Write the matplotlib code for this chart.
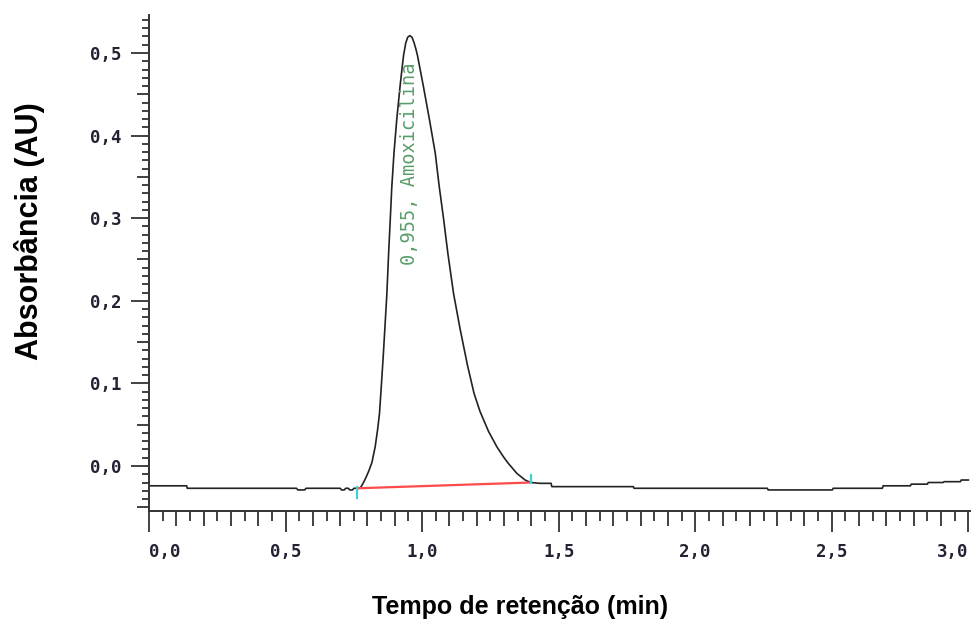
#!/usr/bin/env python3
"""Chromatogram - Amoxicilina peak"""
import numpy as np
import matplotlib
matplotlib.use('Agg')
import matplotlib.pyplot as plt

# retention time (min) and absorbance (AU)
tempo = [0.0, 0.138, 0.140, 0.540, 0.545, 0.570, 0.575, 0.700, 0.705, 0.715,
         0.720, 0.730, 0.735, 0.745, 0.750, 0.765, 0.775, 0.782, 0.790, 0.797,
         0.806, 0.816, 0.828, 0.837, 0.844, 0.852, 0.858, 0.864, 0.871, 0.877,
         0.883, 0.889, 0.897, 0.907, 0.919, 0.926, 0.932, 0.940, 0.947, 0.955,
         0.963, 0.970, 0.977, 0.983, 0.994, 1.005, 1.027, 1.048, 1.062, 1.079,
         1.094, 1.115, 1.139, 1.166, 1.190, 1.212, 1.243, 1.274, 1.298, 1.316,
         1.347, 1.377, 1.398, 1.430, 1.472, 1.475, 1.773, 1.776, 2.264, 2.267,
         2.502, 2.505, 2.685, 2.688, 2.788, 2.791, 2.850, 2.853, 2.908, 2.911,
         2.971, 2.974, 3.000]
absorb = [-0.024, -0.024, -0.027, -0.027, -0.029, -0.029, -0.027, -0.027, -0.029, -0.029,
          -0.027, -0.027, -0.029, -0.029, -0.027, -0.027, -0.026, -0.022, -0.017, -0.012,
          -0.005, 0.004, 0.023, 0.044, 0.064, 0.104, 0.135, 0.169, 0.209, 0.255,
          0.296, 0.338, 0.379, 0.419, 0.459, 0.480, 0.497, 0.512, 0.519, 0.521,
          0.519, 0.513, 0.505, 0.497, 0.478, 0.459, 0.419, 0.379, 0.340, 0.298,
          0.258, 0.209, 0.166, 0.122, 0.088, 0.066, 0.042, 0.023, 0.011, 0.003,
          -0.009, -0.017, -0.020, -0.021, -0.021, -0.025, -0.025, -0.027, -0.027, -0.029,
          -0.029, -0.027, -0.027, -0.024, -0.024, -0.022, -0.022, -0.020, -0.020, -0.019,
          -0.019, -0.017, -0.017]

# integration baseline and peak start/end marks
base_t = [0.763, 1.398]
base_y = [-0.027, -0.020]
mark_start = (0.763, -0.025, -0.039)
mark_end = (1.398, -0.011, -0.021)

peak_label = "0,955, Amoxicilina"
peak_label_pos = (0.955, 0.243)

xticks = [0.0, 0.5, 1.0, 1.5, 2.0, 2.5, 3.0]
yticks = [0.0, 0.1, 0.2, 0.3, 0.4, 0.5]

fig = plt.figure(figsize=(9.72, 6.24), dpi=100)
ax = fig.add_axes([149 / 972, 113 / 624, 821 / 972, 496 / 624])

ax.plot(tempo, absorb, color='#222222', linewidth=1.2)
ax.plot(base_t, base_y, color='#ff4a4a', linewidth=1.6)
for t, y0, y1 in (mark_start, mark_end):
    ax.plot([t, t], [y0, y1], color='#3fd0d8', linewidth=1.6)

ax.text(peak_label_pos[0], peak_label_pos[1], peak_label, rotation=90,
        ha='center', va='bottom', color='#5a9e6a', fontsize=13.4,
        family='DejaVu Sans Mono')

ax.set_xlim(0, 3.006)
ax.set_ylim(-0.0545, 0.546)

for s in ['top', 'right']:
    ax.spines[s].set_visible(False)
for s in ['left', 'bottom']:
    ax.spines[s].set_color('#333333')
    ax.spines[s].set_linewidth(1.4)

def fmt(v):
    return f"{v:.1f}".replace('.', ',')

ax.set_xticks(xticks)
ax.set_xticklabels([fmt(v) for v in xticks])
ax.set_yticks(yticks)
ax.set_yticklabels([fmt(v) for v in yticks])
ax.set_xticks(np.arange(0, 3.001, 0.05), minor=True)
ax.set_yticks(np.arange(-0.05, 0.5451, 0.01), minor=True)

ax.tick_params(axis='x', which='major', length=15, width=1.3, color='#333333',
               pad=8, labelsize=12.5, labelcolor='#222233')
ax.tick_params(axis='y', which='major', length=13, width=1.3, color='#333333',
               pad=7, labelsize=12.5, labelcolor='#222233')
ax.tick_params(which='minor', width=1.3, color='#333333')
for lab in ax.get_xticklabels() + ax.get_yticklabels():
    lab.set_family('DejaVu Sans Mono')
    lab.set_fontweight('bold')
xlabs = ax.get_xticklabels()
xlabs[0].set_ha('left')
xlabs[-1].set_ha('right')

# three tick lengths: major / medium / small
for tick, loc in zip(ax.xaxis.get_minor_ticks(), ax.xaxis.get_minorticklocs()):
    k = int(round(loc / 0.05))
    tick.tick1line.set_markersize(10.8 if k % 2 == 0 else 7.2)
for tick, loc in zip(ax.yaxis.get_minor_ticks(), ax.yaxis.get_minorticklocs()):
    k = int(round(loc / 0.01))
    tick.tick1line.set_markersize(8.6 if k % 5 == 0 else 5)

ax.set_xlabel('Tempo de retenção (min)', fontsize=18, fontweight='bold',
              family='Liberation Sans')
ax.set_ylabel('Absorbância (AU)', fontsize=22, fontweight='bold',
              family='Liberation Sans')
ax.xaxis.set_label_coords(0.452, -0.194)
ax.yaxis.set_label_coords(-0.145, 0.565)
ax.xaxis.label.set_va('center')
ax.yaxis.label.set_va('center')

fig.savefig('out.png', dpi=100)
